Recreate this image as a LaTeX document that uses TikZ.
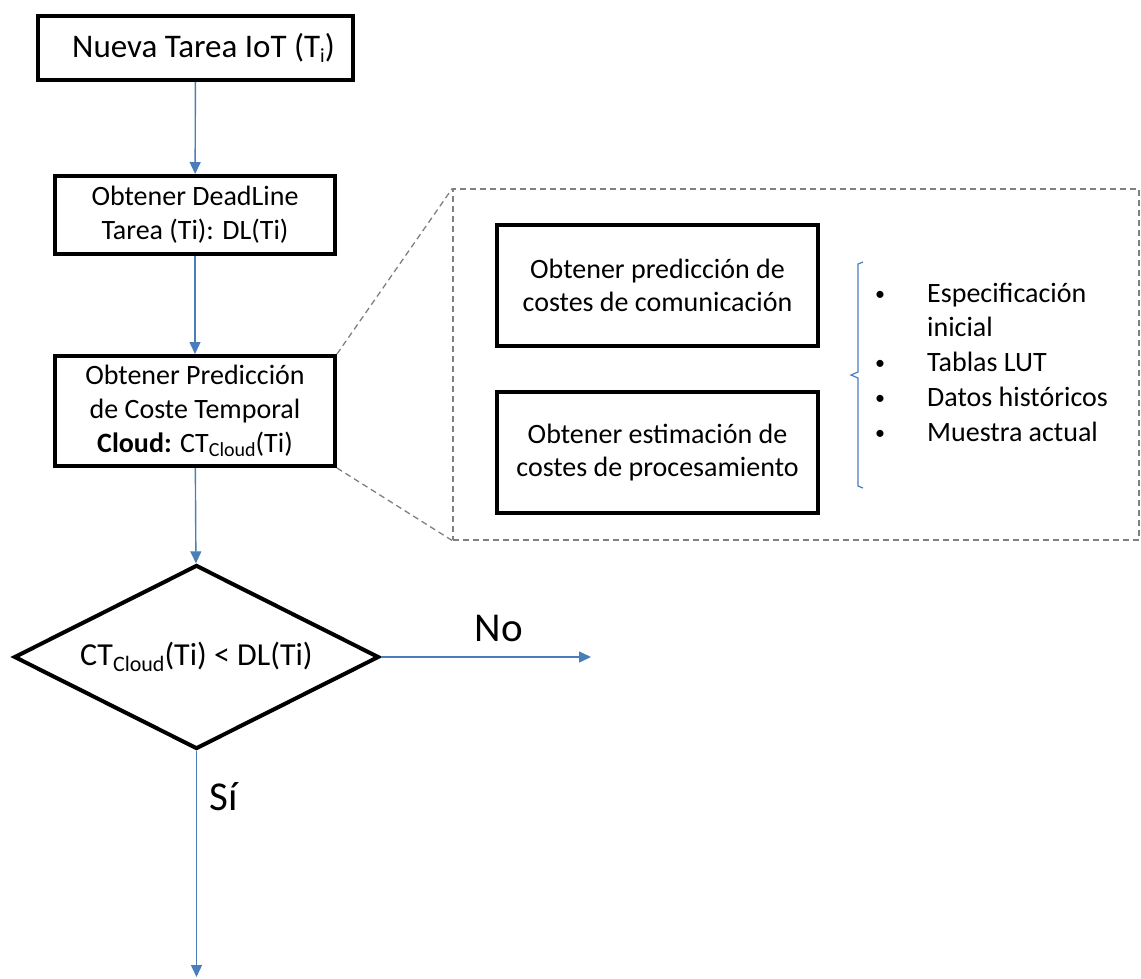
\documentclass[tikz,border=0pt]{standalone}
\usepackage{fontspec}
\setmainfont{Carlito}
\usetikzlibrary{shapes.geometric,arrows.meta}
\definecolor{arrblue}{HTML}{4A7EBB}
\definecolor{dashgray}{HTML}{808080}
\newcommand\lowsub[2]{\raisebox{-0.35ex}{\fontsize{#1}{#1}\selectfont #2}}
\newcommand\fs[2]{\fontsize{#1}{#2}\selectfont}
\begin{document}
\begin{tikzpicture}[x=1pt,y=-1pt,
  bbox/.style={draw=black,line width=4pt,rectangle,inner sep=0pt,align=center},
  dbox/.style={draw=black,line width=4pt,diamond,shape aspect=2,inner sep=0pt,align=center},
  arr/.style={draw=arrblue,line width=1.4pt,-{Triangle[length=12pt,width=11pt]}},
  dashbox/.style={draw=dashgray,line width=1.3pt,dash pattern=on 6pt off 4pt,rectangle,inner sep=0pt},
  dashln/.style={draw=dashgray,line width=1.3pt,dash pattern=on 6pt off 4pt},
  lbl/.style={inner sep=0pt},
]
\path[use as bounding box] (0,0) rectangle (1141,978);

% main flow
\node[bbox,minimum width=315pt,minimum height=64pt,font=\fs{33}{38}] (b1) at (195.5,48)
  {\hspace*{16pt}Nueva Tarea IoT (T\lowsub{20}{i})};
\node[bbox,minimum width=280pt,minimum height=78pt,font=\fs{28}{34}] (b2) at (195,215)
  {Obtener DeadLine\\Tarea (Ti): DL(Ti)};
\node[bbox,minimum width=280pt,minimum height=110pt,font=\fs{28}{34}] (b3) at (195,411)
  {Obtener Predicción\\de Coste Temporal\\\textbf{Cloud:} CT\lowsub{20}{Cloud}(Ti)};
\node[dbox,minimum width=365pt,minimum height=184pt,font=\fs{32}{36}] (d) at (196.5,657)
  {CT\lowsub{22}{Cloud}(Ti) < DL(Ti)};

\coordinate (noend) at (591,657);
\coordinate (siend) at (196.5,977);

\draw[arr] (b1) -- (b2);
\draw[arr] (b2) -- (b3);
\draw[arr] (b3) -- (d);
\draw[arr] (d.east) -- (noend);
\draw[arr] (d.south) -- (siend);

\node[lbl,font=\fs{41}{46}] (no) at (499,628) {No};
\node[lbl,font=\fs{41}{46}] (si) at (224,797) {Sí};

% zoom region
\node[dashbox,minimum width=686pt,minimum height=351pt] (zoom) at (796,364.5) {};
\draw[dashln] (b3.north east) -- (zoom.north west);
\draw[dashln] (b3.south east) -- (zoom.south west);

\node[bbox,minimum width=321pt,minimum height=121pt,font=\fs{28}{33}] (pa) at (657.5,285.5)
  {Obtener predicción de\\costes de comunicación};
\node[bbox,minimum width=321pt,minimum height=121pt,font=\fs{28}{33}] (pb) at (657.5,452.5)
  {Obtener estimación de\\costes de procesamiento};

% bracket
\draw[arrblue,line width=1.2pt] (863,262) -- (858,264) -- (858,372) -- (851,375) -- (858,378) -- (858,486) -- (863,488);

% bullet list
\foreach \n/\y/\t/\b in {l1/302/Especificación/1, l2/336/inicial/0, l3/371/Tablas LUT/1, l4/406/Datos históricos/1, l5/441/Muestra actual/1}{
  \node[lbl,anchor=base west,font=\fs{28}{30}] (\n) at (927,\y) {\t};
  \ifnum\b=1
    \node[lbl,anchor=base,font=\fs{20}{24}] (\n b) at (880,\y-2) {•};
  \fi
}
\end{tikzpicture}
\end{document}
